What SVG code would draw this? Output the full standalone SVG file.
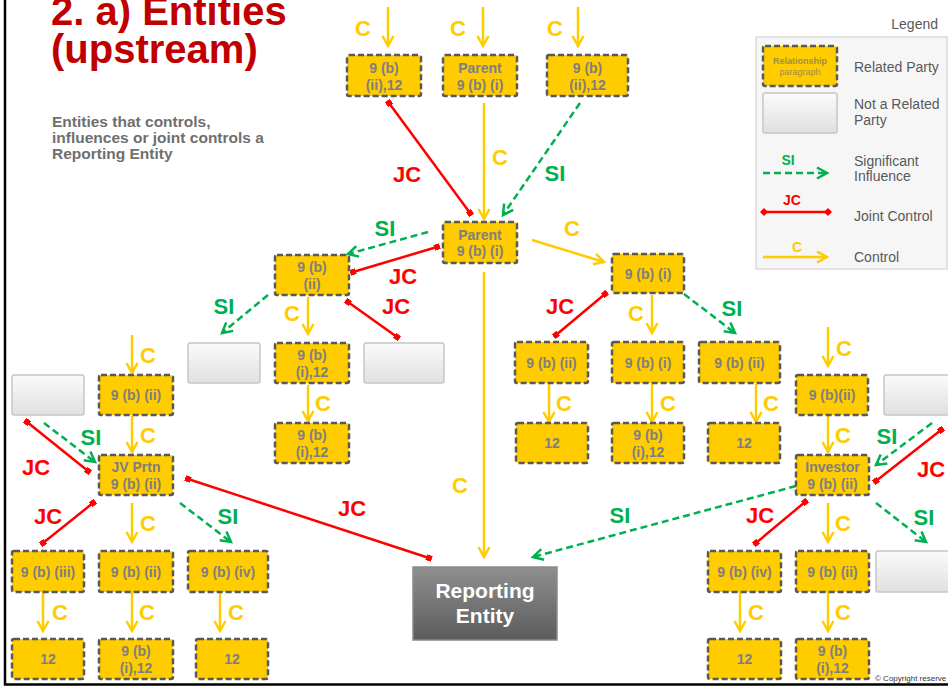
<svg xmlns="http://www.w3.org/2000/svg" width="948" height="686" viewBox="0 0 948 686">
<defs>
<style>
text{font-family:"Liberation Sans",Arial,sans-serif}
.rp{fill:#ffcc00;stroke:#595959;stroke-width:2.5;stroke-dasharray:6 3}
.nr{fill:url(#gg);stroke:#c6c6c6;stroke-width:1.5}
.nt{font-size:14px;font-weight:bold;fill:#7f7f7f;text-anchor:middle}
.c{stroke:#ffcc00;stroke-width:2.5;fill:none;marker-end:url(#ac)}
.si{stroke:#00b050;stroke-width:2.5;fill:none;stroke-dasharray:7 4;marker-end:url(#as)}
.jc{stroke:#ff0000;stroke-width:2.5;fill:none;marker-start:url(#sq);marker-end:url(#sq)}
.lc{font-size:22px;font-weight:bold;fill:#ffcc00;text-anchor:middle}
.ls{font-size:22px;font-weight:bold;fill:#00b050;text-anchor:middle}
.lj{font-size:22px;font-weight:bold;fill:#ff0000;text-anchor:middle}
.lg{font-size:14px;fill:#595959}
.sub{font-size:15.5px;font-weight:bold;fill:#6f6f6f}
</style>
<linearGradient id="gg" x1="0" y1="0" x2="0" y2="1"><stop offset="0" stop-color="#fbfbfb"/><stop offset="1" stop-color="#e0e0e0"/></linearGradient>
<linearGradient id="rg" x1="0" y1="0" x2="0" y2="1"><stop offset="0" stop-color="#8f8f8f"/><stop offset="1" stop-color="#5c5c5c"/></linearGradient>
<marker id="ac" viewBox="0 0 12 12" refX="11" refY="6" markerWidth="12" markerHeight="12" markerUnits="userSpaceOnUse" orient="auto" overflow="visible"><path d="M1,0.5 L11,6 L1,11.5" fill="none" stroke="#ffcc00" stroke-width="2.5"/></marker>
<marker id="as" viewBox="0 0 12 12" refX="11" refY="6" markerWidth="12" markerHeight="12" markerUnits="userSpaceOnUse" orient="auto" overflow="visible"><path d="M1,0.5 L11,6 L1,11.5" fill="none" stroke="#00b050" stroke-width="2.5"/></marker>
<marker id="sq" viewBox="0 0 6 6" refX="3" refY="3" markerWidth="6" markerHeight="6" markerUnits="userSpaceOnUse" orient="auto"><rect x="0" y="0" width="6" height="6" fill="#ff0000"/></marker>
<marker id="dm" viewBox="0 0 8 8" refX="4" refY="4" markerWidth="8" markerHeight="8" markerUnits="userSpaceOnUse" orient="auto"><path d="M4,0 L8,4 L4,8 L0,4 Z" fill="#ff0000"/></marker>
</defs>
<rect x="0" y="0" width="948" height="686" fill="#ffffff"/>
<path d="M5,0 V684.5 H948" fill="none" stroke="#000000" stroke-width="2.5"/>

<g id="title">
<text x="51" y="25" font-size="40" font-weight="bold" fill="#c00000">2. a) Entities</text>
<text x="51" y="63" font-size="40" font-weight="bold" fill="#c00000">(upstream)</text>
<text x="52" y="127" class="sub">Entities that controls,</text>
<text x="52" y="143" class="sub">influences or joint controls a</text>
<text x="52" y="159" class="sub">Reporting Entity</text>
</g>

<g id="legend">
<text x="938" y="29" class="lg" text-anchor="end">Legend</text>
<rect x="756" y="37" width="191" height="232" fill="#f6f6f6" stroke="#d4d4d4" stroke-width="1.2"/>
<rect x="763" y="46" width="74" height="40" rx="2" class="rp"/>
<text x="800" y="64" font-size="9" font-weight="bold" fill="#9e8c4a" text-anchor="middle">Relationship</text>
<text x="800" y="75" font-size="9" fill="#9e8c4a" text-anchor="middle">paragraph</text>
<text x="854" y="72" class="lg">Related Party</text>
<rect x="763" y="93" width="74" height="40" rx="2" class="nr"/>
<text x="854" y="109" class="lg">Not a Related</text>
<text x="854" y="125" class="lg">Party</text>
<text x="788" y="165" font-size="14" font-weight="bold" fill="#00b050" text-anchor="middle">SI</text>
<line x1="763" y1="173" x2="827" y2="173" class="si"/>
<text x="854" y="166" class="lg">Significant</text>
<text x="854" y="181" class="lg">Influence</text>
<text x="792" y="205" font-size="14" font-weight="bold" fill="#ff0000" text-anchor="middle">JC</text>
<line x1="764" y1="212" x2="828" y2="212" stroke="#ff0000" stroke-width="2.5" marker-start="url(#dm)" marker-end="url(#dm)"/>
<text x="854" y="221" class="lg">Joint Control</text>
<text x="797" y="252" font-size="14" font-weight="bold" fill="#ffcc00" text-anchor="middle">C</text>
<line x1="763" y1="257" x2="827" y2="257" class="c"/>
<text x="854" y="262" class="lg">Control</text>
</g>

<g id="connectors">
<line x1="388" y1="7" x2="388" y2="46" class="c"/>
<line x1="483" y1="7" x2="483" y2="46" class="c"/>
<line x1="578" y1="7" x2="578" y2="46" class="c"/>
<line x1="484" y1="103" x2="484" y2="219" class="c"/>
<line x1="532" y1="240" x2="604" y2="262" class="c"/>
<line x1="484" y1="272" x2="484" y2="557" class="c"/>
<line x1="308" y1="297" x2="308" y2="334" class="c"/>
<line x1="308" y1="385" x2="308" y2="421" class="c"/>
<line x1="132" y1="335" x2="132" y2="373" class="c"/>
<line x1="132" y1="416" x2="132" y2="452" class="c"/>
<line x1="132" y1="503" x2="132" y2="542" class="c"/>
<line x1="43" y1="592" x2="43" y2="631" class="c"/>
<line x1="132" y1="592" x2="132" y2="631" class="c"/>
<line x1="220" y1="592" x2="220" y2="631" class="c"/>
<line x1="652" y1="295" x2="652" y2="333" class="c"/>
<line x1="549" y1="384" x2="549" y2="422" class="c"/>
<line x1="652" y1="384" x2="652" y2="422" class="c"/>
<line x1="756" y1="384" x2="756" y2="422" class="c"/>
<line x1="828" y1="327" x2="828" y2="366" class="c"/>
<line x1="828" y1="416" x2="828" y2="452" class="c"/>
<line x1="828" y1="503" x2="828" y2="542" class="c"/>
<line x1="740" y1="592" x2="740" y2="631" class="c"/>
<line x1="828" y1="592" x2="828" y2="631" class="c"/>

<line x1="580" y1="103" x2="503" y2="215" class="si"/>
<line x1="428" y1="232" x2="348" y2="254" class="si"/>
<line x1="268" y1="295" x2="222" y2="333" class="si"/>
<line x1="44" y1="423" x2="95" y2="462" class="si"/>
<line x1="180" y1="503" x2="231" y2="542" class="si"/>
<line x1="684" y1="294" x2="735" y2="333" class="si"/>
<line x1="932" y1="423" x2="876" y2="465" class="si"/>
<line x1="796" y1="486" x2="533" y2="557" class="si"/>
<line x1="876" y1="503" x2="926" y2="542" class="si"/>

<line x1="389" y1="103" x2="470" y2="213" class="jc"/>
<line x1="437" y1="247" x2="353" y2="272" class="jc"/>
<line x1="348" y1="302" x2="397" y2="337" class="jc"/>
<line x1="27" y1="422" x2="88" y2="471" class="jc"/>
<line x1="93" y1="503" x2="43" y2="543" class="jc"/>
<line x1="188" y1="479" x2="429" y2="558" class="jc"/>
<line x1="605" y1="294" x2="556" y2="335" class="jc"/>
<line x1="941" y1="430" x2="876" y2="481" class="jc"/>
<line x1="805" y1="502" x2="756" y2="543" class="jc"/>

<text x="363" y="36" class="lc">C</text>
<text x="458" y="36" class="lc">C</text>
<text x="555" y="36" class="lc">C</text>
<text x="500" y="165" class="lc">C</text>
<text x="572" y="236" class="lc">C</text>
<text x="460" y="493" class="lc">C</text>
<text x="292" y="321" class="lc">C</text>
<text x="323" y="411" class="lc">C</text>
<text x="148" y="363" class="lc">C</text>
<text x="148" y="443" class="lc">C</text>
<text x="148" y="531" class="lc">C</text>
<text x="60" y="620" class="lc">C</text>
<text x="147" y="620" class="lc">C</text>
<text x="236" y="620" class="lc">C</text>
<text x="636" y="321" class="lc">C</text>
<text x="564" y="411" class="lc">C</text>
<text x="668" y="411" class="lc">C</text>
<text x="771" y="411" class="lc">C</text>
<text x="844" y="356" class="lc">C</text>
<text x="843" y="443" class="lc">C</text>
<text x="843" y="531" class="lc">C</text>
<text x="756" y="620" class="lc">C</text>
<text x="843" y="620" class="lc">C</text>

<text x="555" y="181" class="ls">SI</text>
<text x="385" y="236" class="ls">SI</text>
<text x="224" y="314" class="ls">SI</text>
<text x="91" y="445" class="ls">SI</text>
<text x="228" y="524" class="ls">SI</text>
<text x="732" y="316" class="ls">SI</text>
<text x="887" y="444" class="ls">SI</text>
<text x="620" y="523" class="ls">SI</text>
<text x="924" y="525" class="ls">SI</text>

<text x="407" y="182" class="lj">JC</text>
<text x="403" y="284" class="lj">JC</text>
<text x="396" y="314" class="lj">JC</text>
<text x="36" y="475" class="lj">JC</text>
<text x="48" y="524" class="lj">JC</text>
<text x="352" y="516" class="lj">JC</text>
<text x="560" y="314" class="lj">JC</text>
<text x="931" y="477" class="lj">JC</text>
<text x="760" y="523" class="lj">JC</text>
</g>

<g id="n1"><rect x="347" y="55" width="74" height="41" rx="2" class="rp"/><text x="384" y="72.5" class="nt">9 (b)</text><text x="384" y="89.5" class="nt">(ii),12</text></g>
<g id="n2"><rect x="443" y="55" width="74" height="41" rx="2" class="rp"/><text x="480" y="72.5" class="nt">Parent</text><text x="480" y="89.5" class="nt">9 (b) (i)</text></g>
<g id="n3"><rect x="547" y="55" width="81" height="41" rx="2" class="rp"/><text x="587.5" y="72.5" class="nt">9 (b)</text><text x="587.5" y="89.5" class="nt">(ii),12</text></g>
<g id="parent"><rect x="443" y="222" width="74" height="41" rx="2" class="rp"/><text x="480" y="240" class="nt" font-size="12">Parent</text><text x="480" y="256" class="nt" font-size="12">9 (b) (i)</text></g>
<g id="l1"><rect x="275" y="255" width="74" height="40" rx="2" class="rp"/><text x="312" y="272" class="nt">9 (b)</text><text x="312" y="289" class="nt">(ii)</text></g>
<g id="l2"><rect x="275" y="343" width="74" height="40" rx="2" class="rp"/><text x="312" y="360" class="nt">9 (b)</text><text x="312" y="377" class="nt">(i),12</text></g>
<g id="l3"><rect x="275" y="423" width="74" height="40" rx="2" class="rp"/><text x="312" y="440" class="nt">9 (b)</text><text x="312" y="457" class="nt">(i),12</text></g>
<g id="g1"><rect x="188" y="343" width="72" height="40" rx="2" class="nr"/></g>
<g id="g2"><rect x="364" y="343" width="80" height="40" rx="2" class="nr"/></g>
<g id="g3"><rect x="12" y="375" width="72" height="40" rx="2" class="nr"/></g>
<g id="fl1"><rect x="99" y="375" width="74" height="40" rx="2" class="rp"/><text x="136" y="400" class="nt">9 (b) (ii)</text></g>
<g id="jv"><rect x="99" y="455" width="74" height="40" rx="2" class="rp"/><text x="136" y="472" class="nt">JV Prtn</text><text x="136" y="489" class="nt">9 (b) (ii)</text></g>
<g id="b1"><rect x="12" y="551" width="72" height="41" rx="2" class="rp"/><text x="48" y="576.5" class="nt">9 (b) (iii)</text></g>
<g id="b2"><rect x="99" y="551" width="74" height="41" rx="2" class="rp"/><text x="136" y="576.5" class="nt">9 (b) (ii)</text></g>
<g id="b3"><rect x="188" y="551" width="80" height="41" rx="2" class="rp"/><text x="228" y="576.5" class="nt">9 (b) (iv)</text></g>
<g id="c1"><rect x="12" y="639" width="72" height="40" rx="2" class="rp"/><text x="48" y="664" class="nt">12</text></g>
<g id="c2"><rect x="99" y="639" width="74" height="40" rx="2" class="rp"/><text x="136" y="656" class="nt">9 (b)</text><text x="136" y="673" class="nt">(i),12</text></g>
<g id="c3"><rect x="196" y="639" width="72" height="40" rx="2" class="rp"/><text x="232" y="664" class="nt">12</text></g>
<g id="r1"><rect x="612" y="254" width="72" height="39" rx="2" class="rp"/><text x="648" y="278.5" class="nt">9 (b) (i)</text></g>
<g id="r2"><rect x="515" y="342" width="73" height="41" rx="2" class="rp"/><text x="551.5" y="367.5" class="nt">9 (b) (ii)</text></g>
<g id="r3"><rect x="612" y="342" width="72" height="41" rx="2" class="rp"/><text x="648" y="367.5" class="nt">9 (b) (i)</text></g>
<g id="r4"><rect x="699" y="342" width="81" height="41" rx="2" class="rp"/><text x="739.5" y="367.5" class="nt">9 (b) (ii)</text></g>
<g id="r5"><rect x="516" y="423" width="72" height="40" rx="2" class="rp"/><text x="552" y="448" class="nt">12</text></g>
<g id="r6"><rect x="612" y="423" width="72" height="40" rx="2" class="rp"/><text x="648" y="440" class="nt">9 (b)</text><text x="648" y="457" class="nt">(i),12</text></g>
<g id="r7"><rect x="708" y="423" width="72" height="40" rx="2" class="rp"/><text x="744" y="448" class="nt">12</text></g>
<g id="fr1"><rect x="796" y="375" width="72" height="40" rx="2" class="rp"/><text x="832" y="400" class="nt">9 (b)(ii)</text></g>
<g id="g4"><rect x="884" y="375" width="76" height="40" rx="2" class="nr"/></g>
<g id="inv"><rect x="796" y="455" width="73" height="40" rx="2" class="rp"/><text x="832.5" y="472" class="nt" font-size="13">Investor</text><text x="832.5" y="489" class="nt" font-size="13">9 (b) (ii)</text></g>
<g id="s1"><rect x="708" y="551" width="73" height="41" rx="2" class="rp"/><text x="744.5" y="576.5" class="nt">9 (b) (iv)</text></g>
<g id="s2"><rect x="796" y="551" width="73" height="41" rx="2" class="rp"/><text x="832.5" y="576.5" class="nt">9 (b) (ii)</text></g>
<g id="g5"><rect x="876" y="551" width="80" height="41" rx="2" class="nr"/></g>
<g id="t1"><rect x="708" y="639" width="73" height="40" rx="2" class="rp"/><text x="744.5" y="664" class="nt">12</text></g>
<g id="t2"><rect x="796" y="639" width="73" height="40" rx="2" class="rp"/><text x="832.5" y="656" class="nt">9 (b)</text><text x="832.5" y="673" class="nt">(i),12</text></g>
<g id="reporting"><rect x="413" y="567" width="144" height="73" fill="url(#rg)" stroke="#8a8a8a" stroke-width="1.5"/><text x="485" y="598" font-size="21" font-weight="bold" fill="#ffffff" text-anchor="middle">Reporting</text><text x="485" y="623" font-size="21" font-weight="bold" fill="#ffffff" text-anchor="middle">Entity</text></g>

<text x="875" y="681" font-size="8" fill="#333333">© Copyright reserve</text>
</svg>
